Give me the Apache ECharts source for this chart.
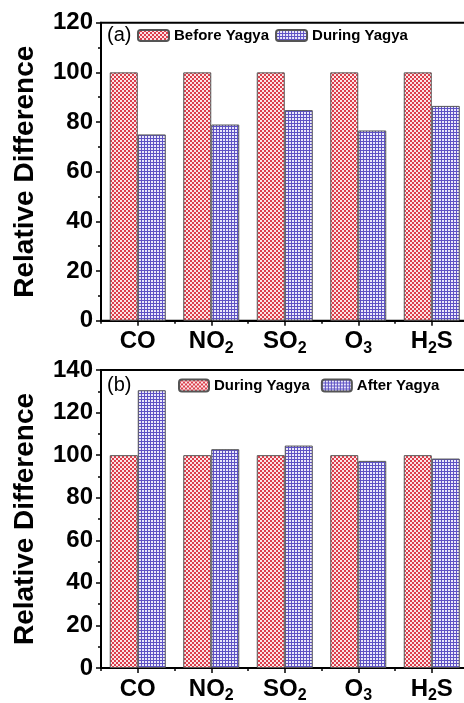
<!DOCTYPE html>
<html><head><meta charset="utf-8">
<script src="https://cdn.jsdelivr.net/npm/echarts@6/dist/echarts.min.js"></script>
<style>html,body{margin:0;padding:0;background:#fff;}#c{width:464px;height:703px;}</style>
</head><body><div id="c"></div>
<script>
var categories = ['CO', 'NO2', 'SO2', 'O3', 'H2S'];
var beforeYagyaA = [100, 100, 100, 100, 100];
var duringYagyaA = [75, 79, 84.8, 76.6, 86.5];
var duringYagyaB = [100, 100, 100, 100, 100];
var afterYagyaB = [130.5, 102.8, 104.5, 97.3, 98.4];
var yTicksA = [0, 20, 40, 60, 80, 100, 120];
var yTicksB = [0, 20, 40, 60, 80, 100, 120, 140];

var FONT = 'Arial, "Liberation Sans", sans-serif';

function redPattern() {
  var c = document.createElement('canvas'); c.width = 4; c.height = 4;
  var g = c.getContext('2d');
  g.fillStyle = '#dc3e4c'; g.fillRect(0, 0, 4, 4);
  g.fillStyle = '#fbe4e6'; g.fillRect(0, 0, 2, 2); g.fillRect(2, 2, 2, 2);
  return c;
}
function bluePattern() {
  var c = document.createElement('canvas'); c.width = 3; c.height = 3;
  var g = c.getContext('2d');
  g.fillStyle = '#ebe8fa'; g.fillRect(0, 0, 3, 3);
  g.fillStyle = '#5e52c4'; g.fillRect(0, 0, 3, 1); g.fillRect(0, 0, 1, 3);
  return c;
}
var RED = { image: redPattern(), repeat: 'repeat' };
var BLUE = { image: bluePattern(), repeat: 'repeat' };

function fmtCat(v) {
  var m = v.match(/^([A-Z]+)(\d)(.*)$/);
  if (!m) return '{b|' + v + '}';
  return '{b|' + m[1] + '}{s|' + m[2] + '}' + (m[3] ? '{b|' + m[3] + '}' : '');
}

var GRID_L = 101, GRID_W = 367.5;
var grids = [
  { left: GRID_L, top: 22.7, width: GRID_W, height: 298, outerBoundsMode: 'none', containLabel: false, show: true, borderColor: '#000', borderWidth: 2, backgroundColor: 'transparent' },
  { left: GRID_L, top: 370, width: GRID_W, height: 298, outerBoundsMode: 'none', containLabel: false, show: true, borderColor: '#000', borderWidth: 2, backgroundColor: 'transparent' }
];

function mainX(gi) {
  return {
    type: 'category', gridIndex: gi, data: categories,
    axisLine: { show: true, lineStyle: { color: '#000', width: 2 } },
    axisTick: { show: true, alignWithLabel: true, inside: false, length: 5, lineStyle: { color: '#000', width: 1.5 } },
    axisLabel: {
      interval: 0, margin: 6, formatter: fmtCat, hideOverlap: false,
      rich: {
        b: { fontFamily: FONT, fontWeight: 'bold', fontSize: 24, color: '#000', lineHeight: 30 },
        s: { fontFamily: FONT, fontWeight: 'bold', fontSize: 16, color: '#000', lineHeight: 16, verticalAlign: 'bottom', padding: [14, 0, 0, 0] }
      }
    },
    splitLine: { show: false }
  };
}
function minorX(gi) {
  return {
    type: 'category', gridIndex: gi, data: categories, position: 'bottom',
    axisLine: { show: false },
    axisTick: { show: true, interval: 0, alignWithLabel: false, inside: false, length: 3, lineStyle: { color: '#000', width: 1.5 } },
    axisLabel: { show: false }, splitLine: { show: false }
  };
}
function yAx(gi, max, ticks) {
  return {
    type: 'value', gridIndex: gi, min: 0, max: max, interval: 20,
    name: 'Relative Difference', nameLocation: 'middle', nameGap: 62,
    nameTextStyle: { fontFamily: FONT, fontWeight: 'bold', fontSize: 28, color: '#000' },
    axisLine: { show: true, lineStyle: { color: '#000', width: 2 } },
    axisTick: { show: true, inside: false, length: 5, lineStyle: { color: '#000', width: 1.5 } },
    minorTick: { show: true, splitNumber: 2, length: 3, lineStyle: { color: '#000', width: 1.5 } },
    axisLabel: {
      margin: 8, fontFamily: FONT, fontWeight: 'bold', fontSize: 24, color: '#000',
      formatter: function (v) { return ticks.indexOf(v) >= 0 ? String(v) : ''; }
    },
    splitLine: { show: false }
  };
}
var barStyle = function (col) {
  return { color: col, borderColor: '#555', borderWidth: 1 };
};
var BW = 28;

var option = {
  backgroundColor: '#fff',
  animation: false,
  grid: grids,
  xAxis: [mainX(0), minorX(0), mainX(1), minorX(1)],
  yAxis: [yAx(0, 120, yTicksA), yAx(1, 140, yTicksB)],
  legend: [
    {
      left: 137, top: 28, padding: 0, itemWidth: 31, itemHeight: 11, itemGap: 6,
      data: ['Before Yagya', 'During Yagya'],
      textStyle: { fontFamily: FONT, fontWeight: 'bold', fontSize: 15, color: '#000' },
      selectedMode: false
    },
    {
      left: 178, top: 378, padding: 0, itemWidth: 30, itemHeight: 12, itemGap: 11,
      data: ['During Yagya (b)', 'After Yagya'],
      formatter: function (n) { return n.replace(' (b)', ''); },
      textStyle: { fontFamily: FONT, fontWeight: 'bold', fontSize: 15, color: '#000' },
      selectedMode: false
    }
  ],
  graphic: [
    { type: 'text', left: 107, top: 25, style: { text: '(a)', fontFamily: FONT, fontSize: 20, fill: '#000' } },
    { type: 'text', left: 107, top: 375, style: { text: '(b)', fontFamily: FONT, fontSize: 20, fill: '#000' } }
  ],
  series: [
    { name: 'Before Yagya', type: 'bar', xAxisIndex: 0, yAxisIndex: 0, data: beforeYagyaA, barWidth: BW, barGap: '0%', itemStyle: barStyle(RED) },
    { name: 'During Yagya', type: 'bar', xAxisIndex: 0, yAxisIndex: 0, data: duringYagyaA, barWidth: BW, barGap: '0%', itemStyle: barStyle(BLUE) },
    { name: 'During Yagya (b)', type: 'bar', xAxisIndex: 2, yAxisIndex: 1, data: duringYagyaB, barWidth: BW, barGap: '0%', itemStyle: barStyle(RED) },
    { name: 'After Yagya', type: 'bar', xAxisIndex: 2, yAxisIndex: 1, data: afterYagyaB, barWidth: BW, barGap: '0%', itemStyle: barStyle(BLUE) }
  ]
};
var chart = echarts.init(document.getElementById('c'), null, { renderer: 'canvas' });
chart.setOption(option);
</script>
</body></html>
